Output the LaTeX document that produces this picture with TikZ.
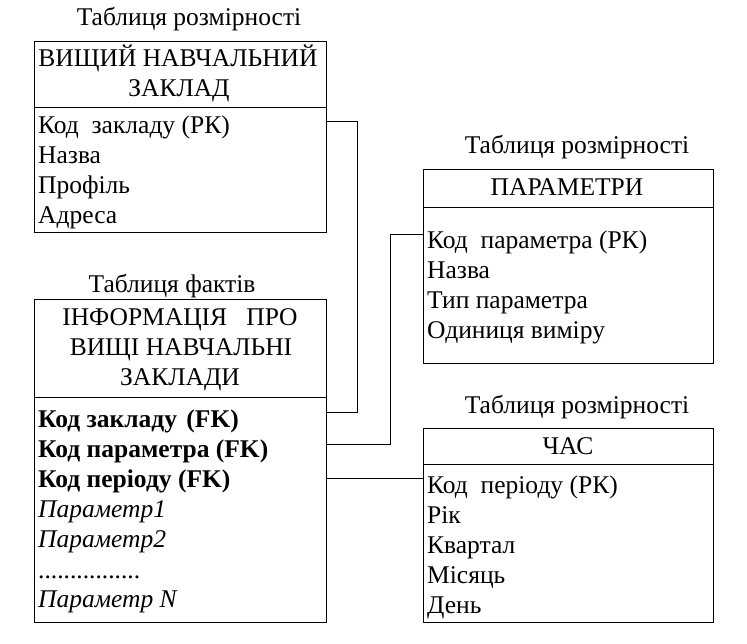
\documentclass[tikz,border=0pt]{standalone}
\usepackage{fontspec}
\setmainfont{Liberation Serif}
\begin{document}
\begin{tikzpicture}[x=1pt,y=-1pt,
  tbl/.style={draw,line width=1pt,inner sep=0pt,outer sep=0pt,anchor=north west},
  lbl/.style={inner sep=0pt,anchor=base,font=\fontsize{25.5}{30}\selectfont},
  fld/.style={inner sep=0pt,anchor=base west,font=\fontsize{25.5}{30}\selectfont},
  conn/.style={draw,line width=1pt}]
\useasboundingbox (0,0) rectangle (747,643);
% boxes
\node[tbl,minimum width=292pt,minimum height=191pt] (vnz) at (34,41) {};
\node[tbl,minimum width=292pt,minimum height=323pt] (fact) at (34,299) {};
\node[tbl,minimum width=290pt,minimum height=194pt] (par) at (423,169) {};
\node[tbl,minimum width=290pt,minimum height=194pt] (chas) at (423,428) {};
% dividers
\coordinate (d1) at (34,107); \draw[line width=1pt] (d1) -- (d1 -| vnz.east);
\coordinate (d2) at (34,397); \draw[line width=1pt] (d2) -- (d2 -| fact.east);
\coordinate (d3) at (423,207); \draw[line width=1pt] (d3) -- (d3 -| par.east);
\coordinate (d4) at (423,464); \draw[line width=1pt] (d4) -- (d4 -| chas.east);
% captions
\node[lbl] (t1) at (189,25) {Таблиця розмірності};
\node[lbl] (t2) at (172,292) {Таблиця фактів};
\node[lbl] (t3) at (577,153) {Таблиця розмірності};
\node[lbl] (t4) at (577,413) {Таблиця розмірності};
% box 1
\node[lbl] (v1) at (178,66) {ВИЩИЙ НАВЧАЛЬНИЙ};
\node[lbl] (v2) at (179,96) {ЗАКЛАД};
\node[fld] (vf1) at (38,133) {Код\ \ закладу (РК)};
\node[fld] (vf2) at (38,163) {Назва};
\node[fld] (vf3) at (38,193) {Профіль};
\node[fld] (vf4) at (38,223) {Адреса};
% box 2
\node[lbl] (f1) at (180,325) {ІНФОРМАЦІЯ\ \ \ ПРО};
\node[lbl] (f2) at (181,355) {ВИЩІ НАВЧАЛЬНІ};
\node[lbl] (f3) at (180,385) {ЗАКЛАДИ};
\node[fld] (ff1) at (38,427) {\bfseries Код закладу\hspace{3pt} (FK)};
\node[fld] (ff2) at (38,457) {\bfseries Код параметра (FK)};
\node[fld] (ff3) at (38,487) {\bfseries Код періоду (FK)};
\node[fld] (ff4) at (38,517) {\itshape Параметр1};
\node[fld] (ff5) at (38,547) {\itshape Параметр2};
\node[fld] (ff6) at (38,578) {................};
\node[fld] (ff7) at (38,607) {\itshape Параметр N};
% box 3
\node[lbl] (p1) at (567,195) {ПАРАМЕТРИ};
\node[fld] (pf1) at (427,248) {Код\ \ параметра (РК)};
\node[fld] (pf2) at (427,278) {Назва};
\node[fld] (pf3) at (427,308) {Тип параметра};
\node[fld] (pf4) at (427,338) {Одиниця виміру};
% box 4
\node[lbl] (c1) at (568,454) {ЧАС};
\node[fld] (cf1) at (427,493) {Код\ \ періоду (РК)};
\node[fld] (cf2) at (427,523) {Рік};
\node[fld] (cf3) at (427,553) {Квартал};
\node[fld] (cf4) at (427,583) {Місяць};
\node[fld] (cf5) at (427,613) {День};
% connectors
\coordinate (a1) at (vnz.east |- 0,121);
\coordinate (a2) at (fact.east |- 0,412);
\draw[conn] (a1) -- (357,121) -- (357,412) -- (a2);
\coordinate (b1) at (fact.east |- 0,444);
\coordinate (b2) at (par.west |- 0,234);
\draw[conn] (b1) -- (390,444) -- (390,234) -- (b2);
\coordinate (e1) at (fact.east |- 0,478);
\coordinate (e2) at (chas.west |- 0,478);
\draw[conn] (e1) -- (e2);
\end{tikzpicture}
\end{document}
